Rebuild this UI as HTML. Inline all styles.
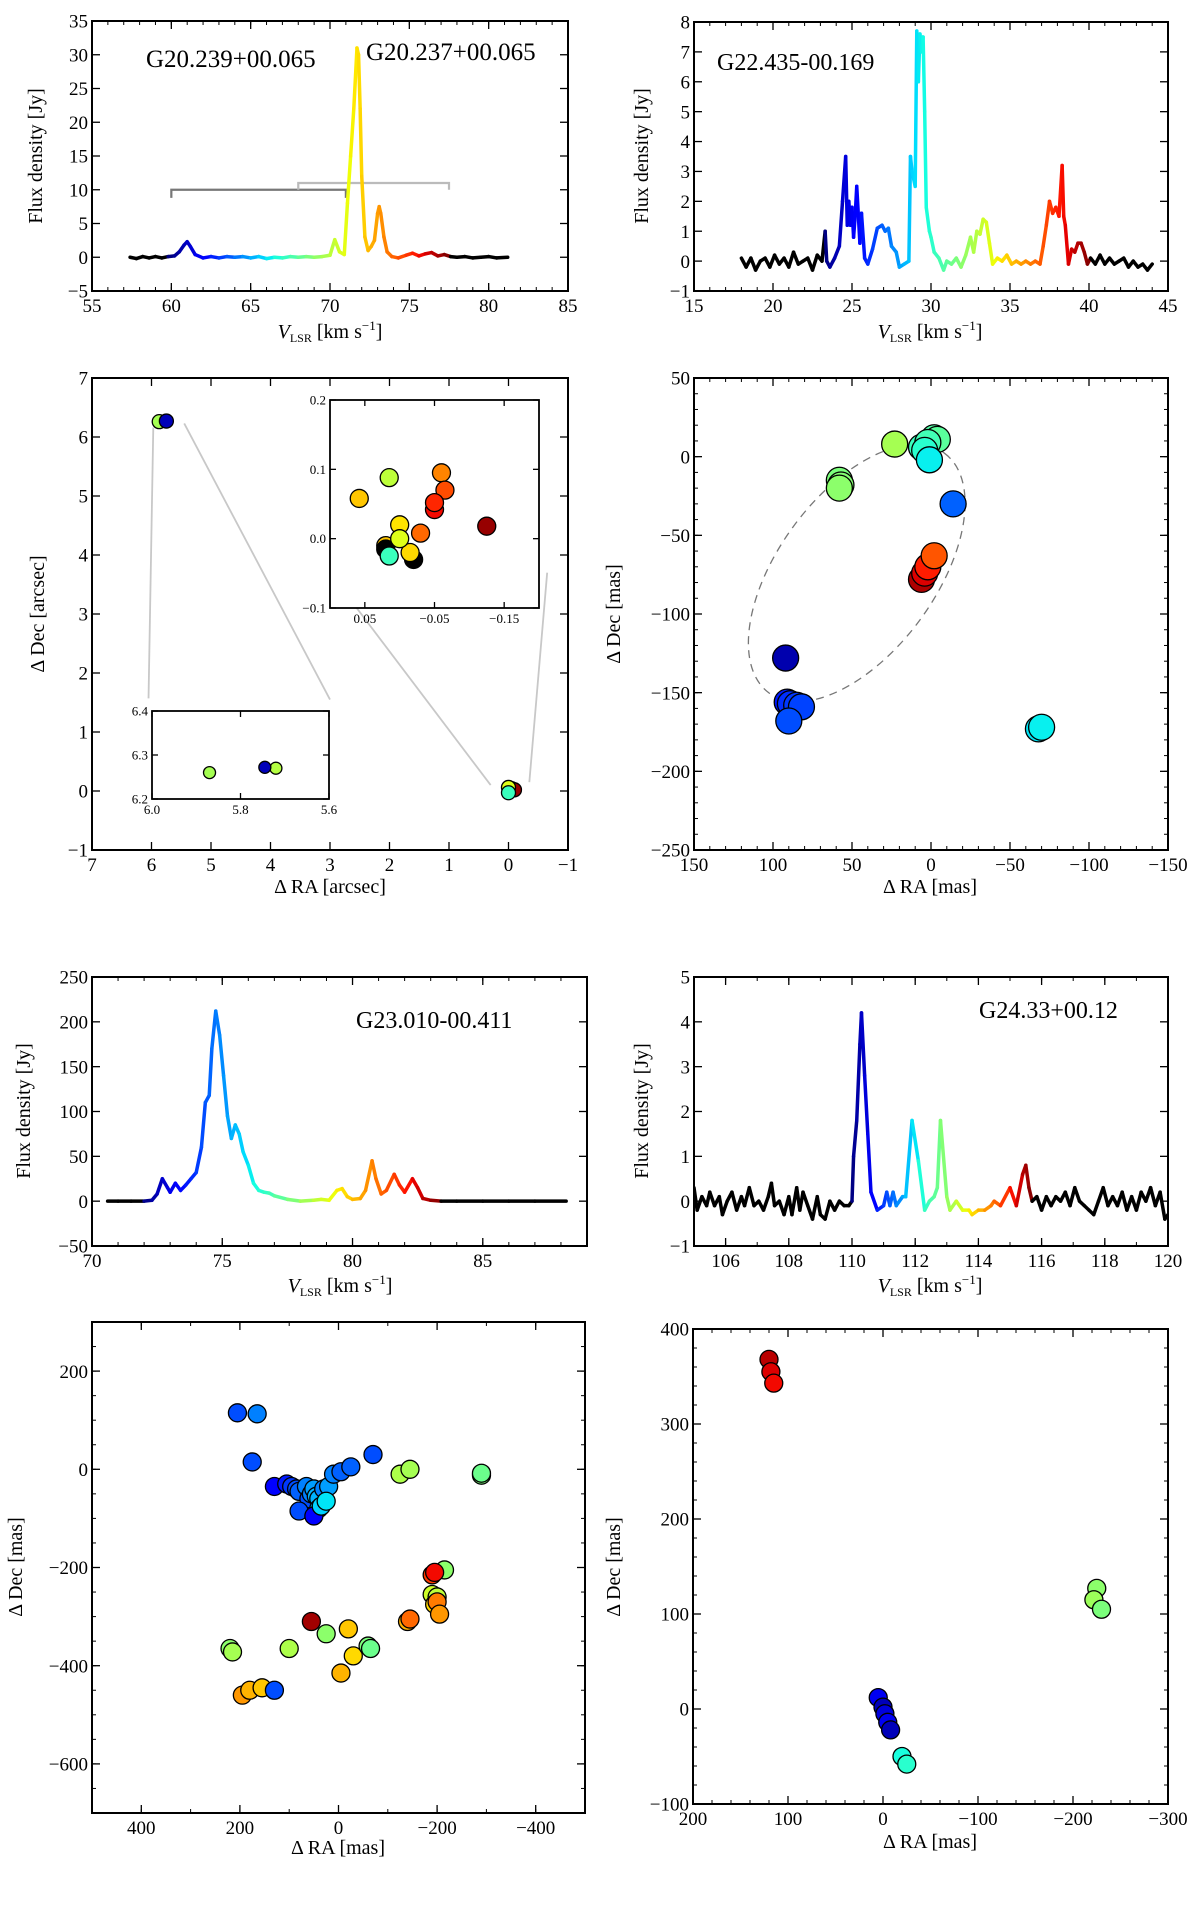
<!DOCTYPE html>
<html><head><meta charset="utf-8">
<style>
html,body{margin:0;padding:0;background:#fff;}
svg{display:block;font-family:"Liberation Serif","DejaVu Serif",serif;}
</style></head>
<body>
<svg id="fig" xmlns="http://www.w3.org/2000/svg" width="1200" height="1911" viewBox="0 0 1200 1911">
<rect x="0" y="0" width="1200" height="1911" fill="#fff"/>
</svg>
<script>
// ---------------- DATA ----------------
const p1Spectrum = [[57.4,0],[57.8,-0.2],[58.2,0.1],[58.6,-0.1],[59.0,0.1],[59.4,-0.1],[59.8,0.1],[60.2,0.2],[60.5,0.8],[60.8,1.8],[61.0,2.3],[61.2,1.6],[61.5,0.4],[62.0,-0.1],[62.5,0.1],[63,-0.1],[63.5,0.1],[64,0],[64.5,0.1],[65,-0.1],[65.5,0.1],[66,-0.2],[66.5,0],[67,-0.1],[67.5,0.1],[68,0],[68.5,0.1],[69,0],[69.5,0.1],[70.0,0.3],[70.3,2.6],[70.6,0.8],[70.9,0.4],[71.1,8],[71.3,15],[71.5,22],[71.7,31],[71.8,30],[71.9,22],[72.0,12],[72.2,3],[72.4,1],[72.6,1.6],[72.8,2.5],[73.0,6.5],[73.1,7.5],[73.2,6.5],[73.4,3],[73.6,0.8],[73.9,0.1],[74.3,-0.1],[74.8,0.3],[75.2,0.6],[75.6,0.2],[76.0,0.5],[76.4,0.7],[76.8,0.2],[77.2,0.4],[77.6,0.1],[78.0,0],[78.5,0.1],[79.0,-0.1],[79.5,0],[80.0,0.1],[80.5,-0.1],[81.2,0]];
const p1ColorRange = [60.0, 77.5];
const p1XTicks = [55,60,65,70,75,80,85];
const p1XTickLabels = ["55","60","65","70","75","80","85"];
const p1YTicks = [-5,0,5,10,15,20,25,30,35];
const p1YTickLabels = ["−5","0","5","10","15","20","25","30","35"];
const p1BracketA = [60, 71, 10, 8.8];
const p1BracketB = [68, 77.5, 11, 10];

const p2Spectrum = [[18.0,0.1],[18.3,-0.2],[18.6,0.1],[18.9,-0.3],[19.2,0.0],[19.5,0.1],[19.8,-0.2],[20.1,0.2],[20.4,-0.1],[20.7,0.1],[21.0,-0.2],[21.3,0.3],[21.6,-0.1],[21.9,0.0],[22.2,0.1],[22.5,-0.3],[22.8,0.2],[23.1,0.0],[23.3,1.0],[23.4,0.0],[23.6,-0.2],[23.9,0.1],[24.2,0.5],[24.4,2.0],[24.6,3.5],[24.7,1.2],[24.8,2.0],[24.9,1.2],[25.0,1.8],[25.1,0.8],[25.2,1.5],[25.3,2.5],[25.5,0.6],[25.6,1.6],[25.8,0.1],[26.0,-0.1],[26.3,0.4],[26.6,1.1],[26.9,1.2],[27.1,1.0],[27.3,1.1],[27.5,0.5],[27.8,0.3],[28.0,-0.2],[28.3,-0.1],[28.6,0.0],[28.7,3.5],[28.8,3.0],[29.0,2.5],[29.1,7.7],[29.2,6.0],[29.3,7.6],[29.4,7.0],[29.5,7.5],[29.6,5.0],[29.7,1.8],[29.9,1.0],[30.0,0.8],[30.2,0.3],[30.5,0.1],[30.8,-0.3],[31.0,0.0],[31.3,-0.1],[31.6,0.1],[31.9,-0.2],[32.2,0.2],[32.5,0.8],[32.7,0.3],[32.9,1.0],[33.1,0.9],[33.3,1.4],[33.5,1.3],[33.7,0.6],[33.9,-0.1],[34.2,0.1],[34.5,0.0],[34.8,0.2],[35.1,-0.1],[35.4,0.0],[35.7,-0.1],[36.0,0.0],[36.3,-0.1],[36.6,0.0],[36.9,-0.1],[37.1,0.5],[37.3,1.2],[37.5,2.0],[37.7,1.6],[37.9,1.8],[38.1,1.5],[38.3,3.2],[38.4,1.5],[38.5,1.2],[38.7,-0.1],[38.9,0.4],[39.1,0.3],[39.3,0.6],[39.5,0.6],[39.7,0.3],[39.9,-0.1],[40.1,0.1],[40.4,-0.1],[40.7,0.2],[41.0,-0.1],[41.3,0.1],[41.6,-0.1],[41.9,0.0],[42.2,0.1],[42.5,-0.2],[42.8,0.0],[43.1,-0.2],[43.4,-0.1],[43.7,-0.3],[44.0,-0.1]];
const p2ColorRange = [23.3, 40.1];
const p2XTicks = [15,20,25,30,35,40,45];
const p2XTickLabels = ["15","20","25","30","35","40","45"];
const p2YTicks = [-1,0,1,2,3,4,5,6,7,8];
const p2YTickLabels = ["−1","0","1","2","3","4","5","6","7","8"];

const p3Main = [[5.87,6.26,0.55],[5.75,6.27,0.05],[-0.05,0.04,0.8],[-0.1,0.02,0.98],[0,0.06,0.62],[0.0,-0.03,0.42]];
const p3InsetA = [[0.058,0.058,0.7],[0.015,0.088,0.58],[-0.06,0.095,0.77],[-0.065,0.07,0.83],[-0.05,0.042,0.9],[-0.05,0.052,0.87],[-0.125,0.018,0.98],[-0.03,0.008,0.8],[0.0,0.02,0.67],[0.02,-0.01,0.7],[-0.02,-0.03,-1],[-0.015,-0.02,0.68],[0.02,-0.015,-1],[0.0,0.0,0.62],[0.015,-0.025,0.42]];
const p3InsetB = [[5.87,6.26,0.55],[5.72,6.27,0.57],[5.745,6.272,0.05]];
const p3ZoomLines = [[5.97,6.16,6.05,1.57],[5.45,6.23,3.0,1.55],[3.0,3.7,0.3,0.1],[-0.65,3.7,-0.35,0.15]];
const p3XTicks = [7,6,5,4,3,2,1,0,-1];
const p3XTickLabels = ["7","6","5","4","3","2","1","0","−1"];
const p3YTicks = [-1,0,1,2,3,4,5,6,7];
const p3YTickLabels = ["−1","0","1","2","3","4","5","6","7"];
const p3aXTicks = [0.05,-0.05,-0.15];
const p3aXTickLabels = ["0.05","−0.05","−0.15"];
const p3aYTicks = [-0.1,0.0,0.1,0.2];
const p3aYTickLabels = ["−0.1","0.0","0.1","0.2"];
const p3bXTicks = [6.0,5.8,5.6];
const p3bXTickLabels = ["6.0","5.8","5.6"];
const p3bYTicks = [6.2,6.3,6.4];
const p3bYTickLabels = ["6.2","6.3","6.4"];

const p4Points = [[92,-128,0.04],[91,-156,0.15],[89,-157,0.17],[85,-158,0.18],[82,-159,0.19],[90,-168,0.2],[-14,-30,0.22],[-68,-173,0.35],[-70,-172,0.36],[6,6,0.42],[-2,12,0.45],[-4,11,0.46],[2,9,0.43],[4,4,0.4],[1,-2,0.36],[23,8,0.55],[58,-15,0.5],[57,-18,0.51],[58,-20,0.52],[6,-78,0.96],[4,-74,0.92],[2,-70,0.88],[-2,-63,0.82]];
const p4Ellipse = [47,-74,94,50,-111,152];
const p4XTicks = [150,100,50,0,-50,-100,-150];
const p4XTickLabels = ["150","100","50","0","−50","−100","−150"];
const p4YTicks = [-250,-200,-150,-100,-50,0,50];
const p4YTickLabels = ["−250","−200","−150","−100","−50","0","50"];

const p5Spectrum = [[70.6,0],[71.0,0],[71.5,0],[72.0,0],[72.3,1],[72.5,8],[72.7,25],[72.9,15],[73.0,10],[73.2,20],[73.4,12],[73.6,18],[73.8,25],[74.0,32],[74.2,60],[74.35,110],[74.5,118],[74.6,170],[74.75,212],[74.9,185],[75.05,140],[75.2,95],[75.35,70],[75.5,85],[75.65,75],[75.8,55],[76.0,40],[76.2,20],[76.4,12],[76.6,10],[76.8,9],[77.0,6],[77.5,2],[78.0,0],[78.5,1],[78.8,2],[79.1,1],[79.4,12],[79.6,14],[79.8,5],[80.0,2],[80.3,3],[80.5,12],[80.75,45],[80.9,25],[81.1,8],[81.3,12],[81.6,30],[81.8,18],[82.0,10],[82.3,25],[82.5,15],[82.7,3],[83.0,1],[83.4,0],[84,0],[85,0],[86,0],[87,0],[88.2,0]];
const p5ColorRange = [72.0, 83.4];
const p5XTicks = [70,75,80,85];
const p5XTickLabels = ["70","75","80","85"];
const p5YTicks = [-50,0,50,100,150,200,250];
const p5YTickLabels = ["−50","0","50","100","150","200","250"];

const p6Spectrum = [[105.0,0.3],[105.1,-0.2],[105.25,0.1],[105.4,-0.1],[105.5,0.2],[105.65,-0.1],[105.8,0.1],[105.9,-0.3],[106.05,0.0],[106.2,0.2],[106.35,-0.2],[106.5,0.1],[106.6,-0.1],[106.75,0.3],[106.9,-0.1],[107.05,0.0],[107.2,-0.2],[107.35,0.1],[107.45,0.4],[107.55,-0.1],[107.7,0.0],[107.85,-0.3],[108.0,0.1],[108.1,-0.3],[108.25,0.3],[108.35,-0.2],[108.45,0.2],[108.6,-0.1],[108.75,-0.4],[108.9,0.1],[109.0,-0.3],[109.15,-0.4],[109.3,0.0],[109.45,-0.2],[109.6,0.0],[109.75,-0.1],[109.9,-0.1],[110.0,0.0],[110.05,1.0],[110.15,1.8],[110.25,3.5],[110.3,4.2],[110.4,2.8],[110.5,1.5],[110.6,0.2],[110.8,-0.2],[111.0,-0.1],[111.1,0.2],[111.2,-0.1],[111.3,0.2],[111.4,-0.1],[111.6,0.1],[111.7,0.1],[111.9,1.8],[112.1,0.9],[112.3,-0.2],[112.45,0.0],[112.6,0.1],[112.7,0.3],[112.8,1.8],[113.0,0.1],[113.1,-0.2],[113.3,0.0],[113.5,-0.2],[113.7,-0.2],[113.8,-0.3],[114.0,-0.2],[114.2,-0.2],[114.4,-0.1],[114.5,0.0],[114.7,-0.1],[115.0,0.3],[115.2,-0.1],[115.4,0.6],[115.5,0.8],[115.6,0.3],[115.7,0.0],[115.85,0.1],[116.0,-0.2],[116.15,0.1],[116.3,-0.1],[116.45,0.1],[116.6,0.0],[116.75,0.2],[116.9,-0.1],[117.05,0.3],[117.2,0.0],[117.35,-0.1],[117.5,-0.2],[117.65,-0.3],[117.8,0.0],[117.95,0.3],[118.1,-0.1],[118.25,0.1],[118.4,-0.1],[118.55,0.2],[118.7,-0.2],[118.85,0.1],[119.0,-0.2],[119.15,0.2],[119.3,0.0],[119.45,0.3],[119.6,-0.1],[119.75,0.2],[119.9,-0.4],[120.0,-0.3]];
const p6ColorRange = [110.0, 115.7];
const p6XTicks = [106,108,110,112,114,116,118,120];
const p6XTickLabels = ["106","108","110","112","114","116","118","120"];
const p6YTicks = [-1,0,1,2,3,4,5];
const p6YTickLabels = ["−1","0","1","2","3","4","5"];

const p7Points = [[205,115,0.2],[165,113,0.25],[175,15,0.2],[130,-35,0.12],[105,-30,0.15],[95,-35,0.18],[85,-40,0.2],[80,-45,0.22],[65,-35,0.25],[60,-60,0.2],[55,-50,0.25],[50,-40,0.28],[45,-55,0.3],[40,-60,0.3],[40,-80,0.32],[80,-85,0.2],[50,-95,0.12],[30,-40,0.25],[20,-35,0.28],[10,-10,0.25],[-5,-5,0.22],[-25,5,0.22],[-70,30,0.2],[35,-75,0.33],[25,-65,0.35],[-125,-10,0.56],[-145,0,0.55],[-290,-12,0.5],[-290,-8,0.48],[-215,-205,0.52],[-190,-255,0.6],[-200,-260,0.58],[-195,-275,0.68],[-190,-215,0.85],[-195,-210,0.9],[-200,-270,0.78],[-205,-295,0.75],[-140,-310,0.72],[-145,-305,0.8],[55,-310,0.97],[-20,-325,0.7],[-30,-380,0.68],[-5,-415,0.72],[-60,-360,0.5],[-65,-365,0.48],[25,-335,0.52],[100,-365,0.56],[220,-365,0.52],[215,-372,0.55],[195,-460,0.75],[180,-450,0.72],[155,-445,0.7],[130,-450,0.2]];
const p7XTicks = [400,200,0,-200,-400];
const p7XTickLabels = ["400","200","0","−200","−400"];
const p7YTicks = [200,0,-200,-400,-600];
const p7YTickLabels = ["200","0","−200","−400","−600"];

const p8Points = [[120,368,0.95],[118,355,0.92],[115,343,0.9],[-225,127,0.52],[-222,115,0.54],[-230,105,0.5],[5,12,0.1],[0,2,0.05],[-2,-5,0.08],[-5,-14,0.1],[-8,-22,0.05],[-20,-50,0.38],[-25,-58,0.4]];
const p8XTicks = [200,100,0,-100,-200,-300];
const p8XTickLabels = ["200","100","0","−100","−200","−300"];
const p8YTicks = [-100,0,100,200,300,400];
const p8YTickLabels = ["−100","0","100","200","300","400"];

// ---------------- DRAWING ----------------
const NS = "http://www.w3.org/2000/svg";
const fig = document.getElementById('fig');
function el(tag, attrs, parent){
  const e = document.createElementNS(NS, tag);
  for (const k in attrs) e.setAttribute(k, attrs[k]);
  (parent||fig).appendChild(e);
  return e;
}
function interp(t, xs, ys){
  if (t <= xs[0]) return ys[0];
  for (let i = 1; i < xs.length; i++) if (t <= xs[i]) return ys[i-1] + (ys[i]-ys[i-1])*(t-xs[i-1])/(xs[i]-xs[i-1]);
  return ys[ys.length-1];
}
function jet(t){
  t = Math.max(0, Math.min(1, t));
  const r = interp(t, [0,0.35,0.66,0.89,1], [0,0,1,1,0.5]);
  const g = interp(t, [0,0.125,0.375,0.64,0.91,1], [0,0,1,1,0,0]);
  const b = interp(t, [0,0.11,0.34,0.65,1], [0.5,1,1,0,0]);
  return 'rgb(' + Math.round(r*255) + ',' + Math.round(g*255) + ',' + Math.round(b*255) + ')';
}
function makePanel(name, x0, x1, y0, y1, xlim, ylim){
  const g = el('g', {});
  
  
  const sx = v => x0 + (v - xlim[0]) / (xlim[1] - xlim[0]) * (x1 - x0);
  const sy = v => y1 - (v - ylim[0]) / (ylim[1] - ylim[0]) * (y1 - y0);
  const cid = 'clip-' + name;
  const cp = el('clipPath', {id: cid}, g);
  el('rect', {x: x0, y: y0, width: x1 - x0, height: y1 - y0}, cp);
  const plot = el('g', {'clip-path': 'url(#' + cid + ')'}, g);
  
  
  return {g, plot, sx, sy, x0, x1, y0, y1, xlim, ylim};
}
function drawFrame(p, xt, xl, yt, yl, fs, opts){
  opts = opts || {};
  const tl = opts.tl || 8, ml = tl/2, lw = opts.lw || 2;
  const ag = el('g', {}, p.g);
  
  
  xt.forEach((v, i) => {
    const x = p.sx(v);
    el('line', {x1: x, x2: x, y1: p.y1, y2: p.y1 - tl, stroke: '#000', 'stroke-width': 1.3}, ag);
    el('line', {x1: x, x2: x, y1: p.y0, y2: p.y0 + tl, stroke: '#000', 'stroke-width': 1.3}, ag);
    const t = el('text', {x: x, y: p.y1 + fs + 2, 'font-size': fs, 'text-anchor': 'middle', fill: '#000'}, ag);
    
    
    t.textContent = xl[i];
  });
  yt.forEach((v, i) => {
    const y = p.sy(v);
    el('line', {x1: p.x0, x2: p.x0 + tl, y1: y, y2: y, stroke: '#000', 'stroke-width': 1.3}, ag);
    el('line', {x1: p.x1, x2: p.x1 - tl, y1: y, y2: y, stroke: '#000', 'stroke-width': 1.3}, ag);
    const t = el('text', {x: p.x0 - 4, y: y + fs*0.35, 'font-size': fs, 'text-anchor': 'end', fill: '#000'}, ag);
    
    
    t.textContent = yl[i];
  });
  if (opts.xminor) opts.xminor.forEach(v => {
    const x = p.sx(v);
    el('line', {x1: x, x2: x, y1: p.y1, y2: p.y1 - ml, stroke: '#000', 'stroke-width': 1}, ag);
    el('line', {x1: x, x2: x, y1: p.y0, y2: p.y0 + ml, stroke: '#000', 'stroke-width': 1}, ag);
  });
  if (opts.yminor) opts.yminor.forEach(v => {
    const y = p.sy(v);
    el('line', {x1: p.x0, x2: p.x0 + ml, y1: y, y2: y, stroke: '#000', 'stroke-width': 1}, ag);
    el('line', {x1: p.x1, x2: p.x1 - ml, y1: y, y2: y, stroke: '#000', 'stroke-width': 1}, ag);
  });
  el('rect', {x: p.x0, y: p.y0, width: p.x1 - p.x0, height: p.y1 - p.y0, fill: 'none', stroke: '#000', 'stroke-width': lw}, ag);
}
function range(a, b, s){ const r = []; for (let v = a; v <= b + 1e-9; v += s) r.push(+v.toFixed(6)); return r; }
function drawSpectrum(p, pts, cr, w, name){
  const sg = el('g', {'stroke-width': w, 'stroke-linecap': 'round', 'stroke-linejoin': 'round', fill: 'none'}, p.plot);
  
  
  for (let i = 0; i < pts.length - 1; i++){
    const vm = (pts[i][0] + pts[i+1][0]) / 2;
    const col = (vm >= cr[0] && vm <= cr[1]) ? jet((vm - cr[0]) / (cr[1] - cr[0])) : '#000';
    const seg = el('line', {x1: p.sx(pts[i][0]), y1: p.sy(pts[i][1]), x2: p.sx(pts[i+1][0]), y2: p.sy(pts[i+1][1]), stroke: col}, sg);
    
    
  }
}
function drawPoints(p, pts, r, name, parent){
  const pg = el('g', {}, parent || p.plot);
  
  
  pts.forEach(d => {
    const c = el('circle', {cx: p.sx(d[0]), cy: p.sy(d[1]), r: r, fill: d[2] < 0 ? '#000' : jet(d[2]), stroke: '#000', 'stroke-width': 1.3}, pg);
    
    
  });
}
function txt(s, x, y, fs, name, attrs){
  const t = el('text', Object.assign({x: x, y: y, 'font-size': fs, fill: '#000'}, attrs || {}));
  
  
  t.textContent = s;
  return t;
}
function ylabel(s, x, y, fs, name){
  txt(s, x, y, fs, name, {'text-anchor': 'middle', transform: 'rotate(-90 ' + x + ' ' + y + ')'});
}
function vlsrLabel(x, y, fs, name){
  const t = el('text', {x: x, y: y, 'font-size': fs, 'text-anchor': 'middle', fill: '#000'});
  
  
  const a = el('tspan', {'font-style': 'italic'}, t); a.textContent = 'V';
  const b = el('tspan', {'font-size': fs*0.6, dy: 4}, t); b.textContent = 'LSR';
  const c = el('tspan', {dy: -4}, t); c.textContent = ' [km s';
  const d = el('tspan', {'font-size': fs*0.65, dy: -8}, t); d.textContent = '−1';
  const e = el('tspan', {dy: 8}, t); e.textContent = ']';
}
const FS = 19;

const P1 = makePanel('spectrum-g20', 92, 568, 21, 291, [55, 85], [-5, 35]);
drawFrame(P1, p1XTicks, p1XTickLabels, p1YTicks, p1YTickLabels, FS, {xminor: range(55, 85, 1)});
[p1BracketA, p1BracketB].forEach((b, i) => {
  const pl = el('polyline', {points: [P1.sx(b[0]) + ',' + P1.sy(b[3]), P1.sx(b[0]) + ',' + P1.sy(b[2]), P1.sx(b[1]) + ',' + P1.sy(b[2]), P1.sx(b[1]) + ',' + P1.sy(b[3])].join(' '), fill: 'none', stroke: i ? '#bbb' : '#777', 'stroke-width': 2.2}, P1.plot);
  
  
});
drawSpectrum(P1, p1Spectrum, p1ColorRange, 3.5, 'spectrum-line');
txt('G20.239+00.065', 146, 67, 25, 'source-label-g20-239');
txt('G20.237+00.065', 366, 60, 25, 'source-label-g20-237');
ylabel('Flux density [Jy]', 42, 156, 20, 'y-axis-title');
vlsrLabel(330, 338, 20, 'x-axis-title');

const P2 = makePanel('spectrum-g22', 694, 1168, 22, 291, [15, 45], [-1, 8]);
drawFrame(P2, p2XTicks, p2XTickLabels, p2YTicks, p2YTickLabels, FS, {xminor: range(15, 45, 1)});
drawSpectrum(P2, p2Spectrum, p2ColorRange, 3.5, 'spectrum-line');
txt('G22.435-00.169', 717, 70, 24, 'source-label-g22');
ylabel('Flux density [Jy]', 648, 156, 20, 'y-axis-title');
vlsrLabel(930, 338, 20, 'x-axis-title');

const P3 = makePanel('spots-g20', 92, 568, 378, 850, [7, -1], [-1, 7]);
p3ZoomLines.forEach(l => {
  const ln = el('line', {x1: P3.sx(l[0]), y1: P3.sy(l[1]), x2: P3.sx(l[2]), y2: P3.sy(l[3]), stroke: '#c8c8c8', 'stroke-width': 1.8}, P3.g);
  
  
});
drawFrame(P3, p3XTicks, p3XTickLabels, p3YTicks, p3YTickLabels, FS);
drawPoints(P3, p3Main, 7, 'main-spots');
ylabel('Δ Dec [arcsec]', 44, 614, 20, 'y-axis-title');
txt('Δ RA [arcsec]', 330, 893, 20, 'x-axis-title', {'text-anchor': 'middle'});
const P3a = makePanel('inset-zoom-origin', 330, 539, 400, 608, [0.1, -0.2], [-0.1, 0.2]);
el('rect', {x: 330, y: 400, width: 209, height: 208, fill: '#fff'}, P3a.plot);
drawPoints(P3a, p3InsetA, 9, 'inset-spots');
drawFrame(P3a, p3aXTicks, p3aXTickLabels, p3aYTicks, p3aYTickLabels, 13, {tl: 6, lw: 1.8});
const P3b = makePanel('inset-zoom-north', 152, 329, 711, 799, [6.0, 5.6], [6.2, 6.4]);
el('rect', {x: 152, y: 711, width: 177, height: 88, fill: '#fff'}, P3b.plot);
drawPoints(P3b, p3InsetB, 6, 'inset-spots');
drawFrame(P3b, p3bXTicks, p3bXTickLabels, p3bYTicks, p3bYTickLabels, 13, {tl: 6, lw: 1.8});

const P4 = makePanel('spots-g22', 694, 1168, 378, 850, [150, -150], [-250, 50]);
drawFrame(P4, p4XTicks, p4XTickLabels, p4YTicks, p4YTickLabels, FS, {xminor: range(-150, 150, 10), yminor: range(-250, 50, 10)});
(function(){
  const e = p4Ellipse;
  const kx = Math.abs(P4.sx(1) - P4.sx(0)), ky = Math.abs(P4.sy(1) - P4.sy(0));
  const ang = Math.atan2(-e[5]*ky, -e[4]*kx) * 180 / Math.PI;
  const cx = P4.sx(e[0]), cy = P4.sy(e[1]);
  const ell = el('ellipse', {cx: cx, cy: cy, rx: e[2]*kx, ry: e[3]*ky, transform: 'rotate(' + ang + ' ' + cx + ' ' + cy + ')', fill: 'none', stroke: '#777', 'stroke-width': 1.3, 'stroke-dasharray': '8,6'}, P4.plot);
  
  
})();
drawPoints(P4, p4Points, 13, 'maser-spots');
ylabel('Δ Dec [mas]', 620, 614, 20, 'y-axis-title');
txt('Δ RA [mas]', 930, 893, 20, 'x-axis-title', {'text-anchor': 'middle'});

const P5 = makePanel('spectrum-g23', 92, 587, 977, 1246, [70, 89], [-50, 250]);
drawFrame(P5, p5XTicks, p5XTickLabels, p5YTicks, p5YTickLabels, FS, {xminor: range(70, 89, 1)});
drawSpectrum(P5, p5Spectrum, p5ColorRange, 3.5, 'spectrum-line');
txt('G23.010-00.411', 356, 1028, 24, 'source-label-g23');
ylabel('Flux density [Jy]', 30, 1111, 20, 'y-axis-title');
vlsrLabel(340, 1292, 20, 'x-axis-title');

const P6 = makePanel('spectrum-g24', 694, 1168, 977, 1246, [105, 120], [-1, 5]);
drawFrame(P6, p6XTicks, p6XTickLabels, p6YTicks, p6YTickLabels, FS, {xminor: range(105, 120, 1)});
drawSpectrum(P6, p6Spectrum, p6ColorRange, 3.5, 'spectrum-line');
txt('G24.33+00.12', 979, 1018, 24, 'source-label-g24');
ylabel('Flux density [Jy]', 648, 1111, 20, 'y-axis-title');
vlsrLabel(930, 1292, 20, 'x-axis-title');

const P7 = makePanel('spots-g23', 92, 585, 1322, 1813, [500, -500], [-700, 300]);
drawFrame(P7, p7XTicks, p7XTickLabels, p7YTicks, p7YTickLabels, FS, {xminor: range(-500, 500, 100), yminor: range(-700, 300, 50)});
drawPoints(P7, p7Points, 9, 'maser-spots');
ylabel('Δ Dec [mas]', 22, 1567, 20, 'y-axis-title');
txt('Δ RA [mas]', 338, 1854, 20, 'x-axis-title', {'text-anchor': 'middle'});

const P8 = makePanel('spots-g24', 693, 1168, 1329, 1804, [200, -300], [-100, 400]);
drawFrame(P8, p8XTicks, p8XTickLabels, p8YTicks, p8YTickLabels, FS, {xminor: range(-300, 200, 20), yminor: range(-100, 400, 20)});
drawPoints(P8, p8Points, 9, 'maser-spots');
ylabel('Δ Dec [mas]', 620, 1567, 20, 'y-axis-title');
txt('Δ RA [mas]', 930, 1848, 20, 'x-axis-title', {'text-anchor': 'middle'});
</script>
</body></html>
